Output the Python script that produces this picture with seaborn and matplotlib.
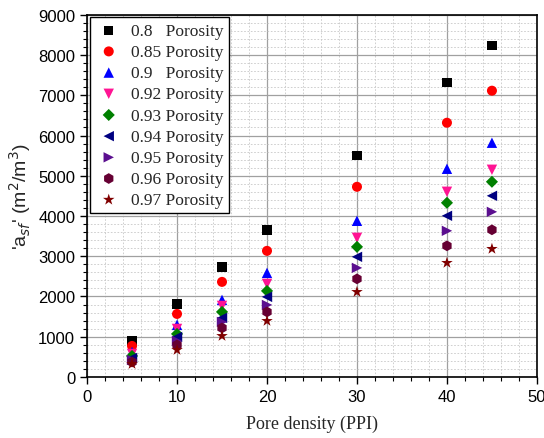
import matplotlib
matplotlib.use("Agg")
import matplotlib.pyplot as plt
from matplotlib.ticker import MultipleLocator
import seaborn as sns
import pandas as pd

ppi = [5, 10, 15, 20, 30, 40, 45]

por_080 = [896, 1816, 2736, 3657, 5497, 7313, 8234]
por_085 = [771, 1567, 2363, 3134, 4726, 6318, 7114]
por_090 = [622, 1294, 1915, 2587, 3881, 5174, 5821]
por_092 = [572, 1194, 1766, 2313, 3458, 4602, 5149]
por_093 = [522, 1070, 1617, 2139, 3234, 4328, 4851]
por_094 = [473, 995, 1468, 1990, 2985, 4005, 4502]
por_095 = [423, 896, 1368, 1791, 2711, 3632, 4104]
por_096 = [373, 796, 1219, 1617, 2438, 3259, 3657]
por_097 = [323, 672, 1020, 1393, 2114, 2836, 3184]

labels = ["0.8   Porosity", "0.85 Porosity", "0.9   Porosity", "0.92 Porosity",
          "0.93 Porosity", "0.94 Porosity", "0.95 Porosity", "0.96 Porosity",
          "0.97 Porosity"]
series = [por_080, por_085, por_090, por_092, por_093, por_094, por_095, por_096, por_097]
colors = ["#000000", "#ff0000", "#0000ff", "#ff1493", "#008000", "#000080",
          "#5b0f8f", "#660033", "#800000"]
markers = ["s", "o", "^", "v", "D", "<", ">", "h", "*"]
sizes = [46, 52, 56, 56, 38, 56, 56, 60, 76]

sns.set_style("white")
fig = plt.figure(figsize=(5.44, 4.39), dpi=100)
ax = fig.add_axes([0.160, 0.139, 0.827, 0.825])

for lab, vals, c, m, s in zip(labels, series, colors, markers, sizes):
    df = pd.DataFrame({"x": ppi, "y": vals})
    sns.scatterplot(data=df, x="x", y="y", ax=ax, color=c, marker=m, s=s,
                    edgecolor="none", label=lab, zorder=3)

ax.set_xlim(0, 50)
ax.set_ylim(0, 9000)
ax.xaxis.set_major_locator(MultipleLocator(10))
ax.xaxis.set_minor_locator(MultipleLocator(2))
ax.yaxis.set_major_locator(MultipleLocator(1000))
ax.yaxis.set_minor_locator(MultipleLocator(200))
ax.grid(which="major", color="#a0a0a0", linewidth=0.9, linestyle="-")
ax.grid(which="minor", color="#c8c8c8", linewidth=0.6, linestyle=(0, (2, 2)))
ax.set_axisbelow(True)

for sp in ax.spines.values():
    sp.set_color("black")
    sp.set_linewidth(1.2)

ax.tick_params(which="major", direction="out", length=5, width=1.0, color="black",
               labelsize=12, labelcolor="black", bottom=True, left=True)
ax.tick_params(which="minor", direction="out", length=3, width=0.8, color="black",
               bottom=True, left=True)
for t in ax.get_xticklabels() + ax.get_yticklabels():
    t.set_fontfamily("Liberation Sans")

ax.set_xlabel("Pore density (PPI)", fontsize=13, family="Liberation Serif", labelpad=8)
ax.set_ylabel(r"'a$_{sf}$' (m$^2$/m$^3$)", fontsize=14, family="Liberation Sans", labelpad=4)

leg = ax.legend(loc="upper left", frameon=True, fancybox=False, edgecolor="black",
                prop={"family": "Liberation Serif", "size": 12.5},
                handletextpad=0.5, labelspacing=0.29, borderpad=0.3,
                handlelength=1.6, borderaxespad=0.15)
leg.get_frame().set_linewidth(1.0)
leg.get_frame().set_alpha(1)

fig.savefig("out.png", dpi=100)
